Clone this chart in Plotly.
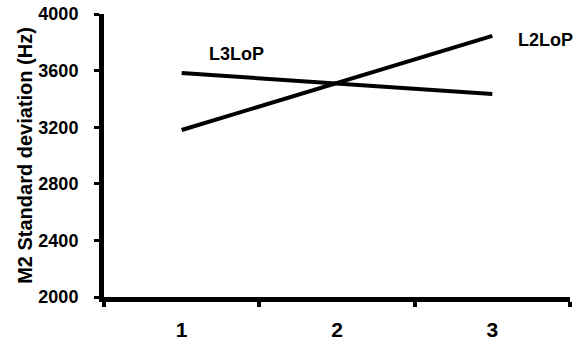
import plotly.graph_objects as go

conditions = [1, 2, 3]
l3lop = [3583, 3510, 3435]
l2lop = [3180, 3512, 3845]
series_names = ["L3LoP", "L2LoP"]
label_x = [1.356, 3.34]
label_y = [3718, 3816]
y_ticks = [2000, 2400, 2800, 3200, 3600, 4000]

FONT = "Liberation Sans, Arial, sans-serif"

fig = go.Figure()
for name, vals in zip(series_names, [l3lop, l2lop]):
    fig.add_trace(go.Scatter(x=conditions, y=vals, mode="lines", name=name,
                             line=dict(color="black", width=4), showlegend=False,
                             cliponaxis=False))

for name, lx, ly in zip(series_names, label_x, label_y):
    fig.add_annotation(x=lx, y=ly, text=f"<b>{name}</b>", showarrow=False,
                       font=dict(family=FONT, size=18, color="black"))

fig.update_layout(
    width=580, height=345,
    margin=dict(l=104, r=10, t=14, b=48, autoexpand=False),
    paper_bgcolor="white", plot_bgcolor="white",
    font=dict(family=FONT, color="black"),
)
fig.update_xaxes(
    range=[0.5, 3.5], tickvals=conditions, ticktext=[f"<b>{c}</b>" for c in conditions],
    ticks="", showgrid=False, zeroline=False, automargin=False,
    showline=True, linecolor="black", linewidth=5,
    tickfont=dict(family=FONT, size=21, color="black"),
    ticklabelstandoff=10, ticklabeloverflow="allow",
    minor=dict(tickvals=[0.5, 1.5, 2.5, 3.5], ticks="outside", ticklen=5,
               tickwidth=4, tickcolor="black", showgrid=False),
)
fig.update_yaxes(
    range=[2000, 4000], tickvals=y_ticks, ticktext=[f"<b>{t}</b>" for t in y_ticks],
    ticks="outside", ticklen=5, tickwidth=3, tickcolor="black",
    showgrid=False, zeroline=False, automargin=False,
    showline=True, linecolor="black", linewidth=5,
    tickfont=dict(family=FONT, size=18, color="black"),
    ticklabelstandoff=12, ticklabeloverflow="allow",
    title=dict(text="<b>M2 Standard deviation (Hz)</b>",
               font=dict(family=FONT, size=20, color="black"), standoff=2),
)

# remove the browser's default 8px page margin so the figure fills the window
fig.write_html("out.html", config={"displayModeBar": False},
               post_script="document.body.style.margin='0';document.body.style.overflow='hidden';")
